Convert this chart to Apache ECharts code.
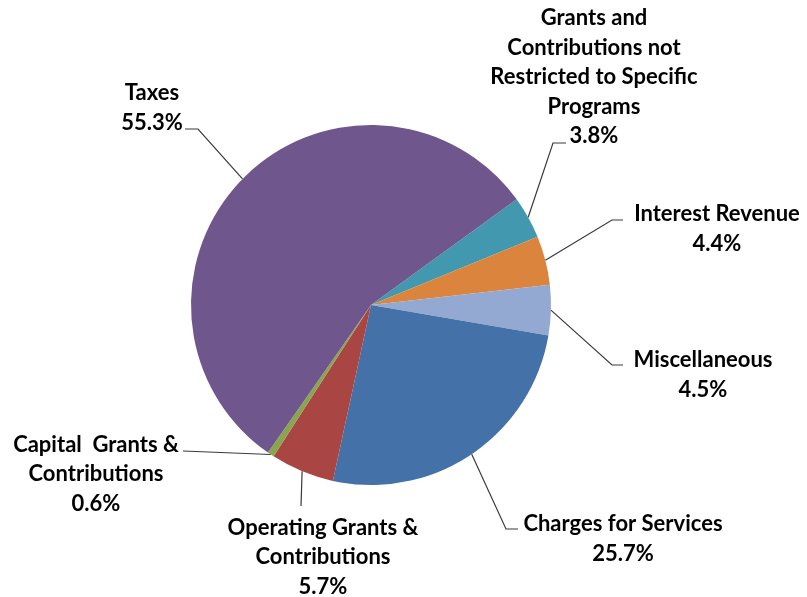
<!DOCTYPE html>
<html><head><meta charset="utf-8">
<script src="https://cdn.jsdelivr.net/npm/echarts@6/dist/echarts.min.js"></script>
<style>html,body{margin:0;padding:0;background:#fff}#c{width:807px;height:597px}</style>
</head><body><div id="c"></div>
<script>
// ---- data ----
const categories = [
  'Grants and Contributions not Restricted to Specific Programs',
  'Interest Revenue',
  'Miscellaneous',
  'Charges for Services',
  'Operating Grants & Contributions',
  'Capital Grants & Contributions',
  'Taxes'
];
const labelTexts = [
  'Grants and\nContributions not\nRestricted to Specific\nPrograms',
  'Interest Revenue',
  'Miscellaneous',
  'Charges for Services',
  'Operating Grants &\nContributions',
  'Capital  Grants &\nContributions',
  'Taxes'
];
const percentages = [3.8, 4.4, 4.5, 25.7, 5.7, 0.6, 55.3];

// ---- layout (label block centres and leader line elbow / end points, px) ----
const labelPlacement = [
  { x: 594, y: 77,  elbow: [553, 143], end: [566, 143] },
  { x: 717, y: 229, elbow: [612, 220], end: [623, 220] },
  { x: 703, y: 375, elbow: [612, 365], end: [623, 365] },
  { x: 623, y: 539, elbow: [506, 529], end: [518, 529] },
  { x: 323, y: 557, elbow: [301, 506], end: [301, 506] },
  { x: 96,  y: 474, elbow: [183, 451], end: [183, 451] },
  { x: 152, y: 108, elbow: [198, 129], end: [185, 129] }
];
const palette = ['#4198AF', '#DA843E', '#94A9D1', '#4472A8', '#A94542', '#89A54E', '#6F568C'];

const chart = echarts.init(document.getElementById('c'), null, { renderer: 'canvas' });
chart.setOption({
  backgroundColor: '#ffffff',
  animation: false,
  color: palette,
  series: [{
    type: 'pie',
    center: [371, 305],
    radius: 180,
    startAngle: 36,
    clockwise: true,
    avoidLabelOverlap: false,
    itemStyle: { borderWidth: 0 },
    data: categories.map((c, i) => ({ name: c, value: percentages[i] })),
    label: {
      show: true,
      position: 'outside',
      formatter: p => labelTexts[p.dataIndex] + '\n' + percentages[p.dataIndex].toFixed(1) + '%',
      fontFamily: 'Lato',
      fontWeight: 'bold',
      fontSize: 22,
      lineHeight: 29.5,
      color: '#000',
      align: 'center'
    },
    labelLine: {
      show: true,
      length: 20,
      length2: 10,
      lineStyle: { color: '#3a3a3a', width: 1.2 }
    },
    labelLayout: function (params) {
      const lp = labelPlacement[params.dataIndex];
      const start = params.labelLinePoints ? params.labelLinePoints[0] : lp.elbow;
      return {
        x: lp.x,
        y: lp.y,
        align: 'center',
        verticalAlign: 'middle',
        labelLinePoints: [start, lp.elbow, lp.end]
      };
    }
  }]
});
</script>
</body></html>
